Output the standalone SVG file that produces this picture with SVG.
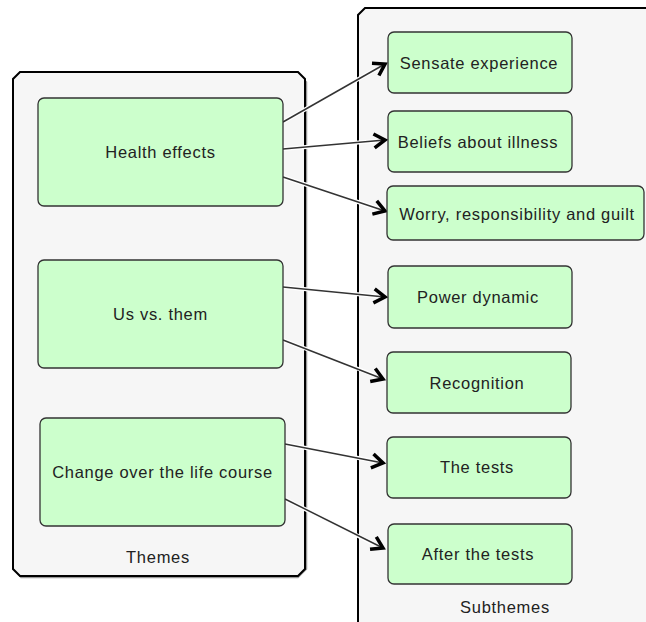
<svg xmlns="http://www.w3.org/2000/svg" width="646" height="622" viewBox="0 0 646 622">
<defs>
<style>
.cont{fill:#f6f6f6;stroke:#000;stroke-width:2}
.shadow{fill:none;stroke:#9a9a9a;stroke-width:1.5}
.node rect{fill:#ccffcc;stroke:#333;stroke-width:1.3}
text{font-family:"Liberation Sans",Arial,sans-serif;font-size:16.5px;letter-spacing:0.7px;fill:#222;text-anchor:middle;dominant-baseline:central}
.halo{stroke:#fff;stroke-width:4;fill:none}
.edge{stroke:#333;stroke-width:1.5;fill:none;marker-end:url(#arr)}
</style>
<marker id="arr" markerUnits="userSpaceOnUse" markerWidth="20" markerHeight="20" refX="11" refY="7" orient="auto" viewBox="-3 -3 20 20">
<path d="M0,0 L11,7 L0,14" fill="none" stroke="#000" stroke-width="3.5"/>
</marker>
</defs>
<rect width="646" height="622" fill="#fff"/>
<g id="themes">
<path class="shadow" d="M21,73.5 L298,73.5 L306.5,82 L306.5,569 L298,577.5 L21,577.5 L14.5,569"/>
<path class="cont" d="M20,72 L298,72 L305,79 L305,569 L298,576 L20,576 L13,569 L13,79 Z"/>
<text x="158" y="557">Themes</text>
</g>
<g id="subthemes">
<path class="shadow" d="M359.5,16 L359.5,630"/>
<path class="cont" d="M365,8 L660,8 L660,640 L365,640 L358,633 L358,15 Z"/>
<text x="505" y="607">Subthemes</text>
</g>
<g id="connectors">
<line class="halo" x1="283" y1="122" x2="376" y2="69"/>
<line class="halo" x1="283" y1="149" x2="376" y2="141"/>
<line class="halo" x1="283" y1="177" x2="376" y2="208"/>
<line class="halo" x1="283" y1="287" x2="376" y2="296"/>
<line class="halo" x1="283" y1="340" x2="374" y2="375"/>
<line class="halo" x1="285" y1="444" x2="374" y2="461"/>
<line class="halo" x1="285" y1="499" x2="374" y2="544"/>
<line class="edge" x1="283" y1="122" x2="385" y2="64"/>
<line class="edge" x1="283" y1="149" x2="385" y2="140"/>
<line class="edge" x1="283" y1="177" x2="385" y2="211"/>
<line class="edge" x1="283" y1="287" x2="385" y2="297"/>
<line class="edge" x1="283" y1="340" x2="383" y2="379"/>
<line class="edge" x1="285" y1="444" x2="383" y2="463"/>
<line class="edge" x1="285" y1="499" x2="383" y2="548"/>
</g>
<g id="health-effects" class="node"><rect x="38" y="98" width="245" height="108" rx="6"/><text x="160.5" y="152">Health effects</text></g>
<g id="us-vs-them" class="node"><rect x="38" y="260" width="245" height="108" rx="6"/><text x="160.5" y="314">Us vs. them</text></g>
<g id="change-life-course" class="node"><rect x="40" y="418" width="245" height="108" rx="6"/><text x="162.5" y="472">Change over the life course</text></g>
<g id="sensate-experience" class="node"><rect x="388" y="32" width="184" height="61" rx="6"/><text x="479" y="63">Sensate experience</text></g>
<g id="beliefs-about-illness" class="node"><rect x="388" y="111" width="184" height="61" rx="6"/><text x="478" y="142">Beliefs about illness</text></g>
<g id="worry" class="node"><rect x="387" y="186" width="257" height="54" rx="6"/><text x="517" y="214">Worry, responsibility and guilt</text></g>
<g id="power-dynamic" class="node"><rect x="388" y="266" width="184" height="62" rx="6"/><text x="478" y="297">Power dynamic</text></g>
<g id="recognition" class="node"><rect x="387" y="352" width="184" height="61" rx="6"/><text x="477" y="383">Recognition</text></g>
<g id="the-tests" class="node"><rect x="387" y="437" width="184" height="61" rx="6"/><text x="477" y="467">The tests</text></g>
<g id="after-the-tests" class="node"><rect x="388" y="524" width="184" height="60" rx="6"/><text x="478" y="554">After the tests</text></g>
</svg>
